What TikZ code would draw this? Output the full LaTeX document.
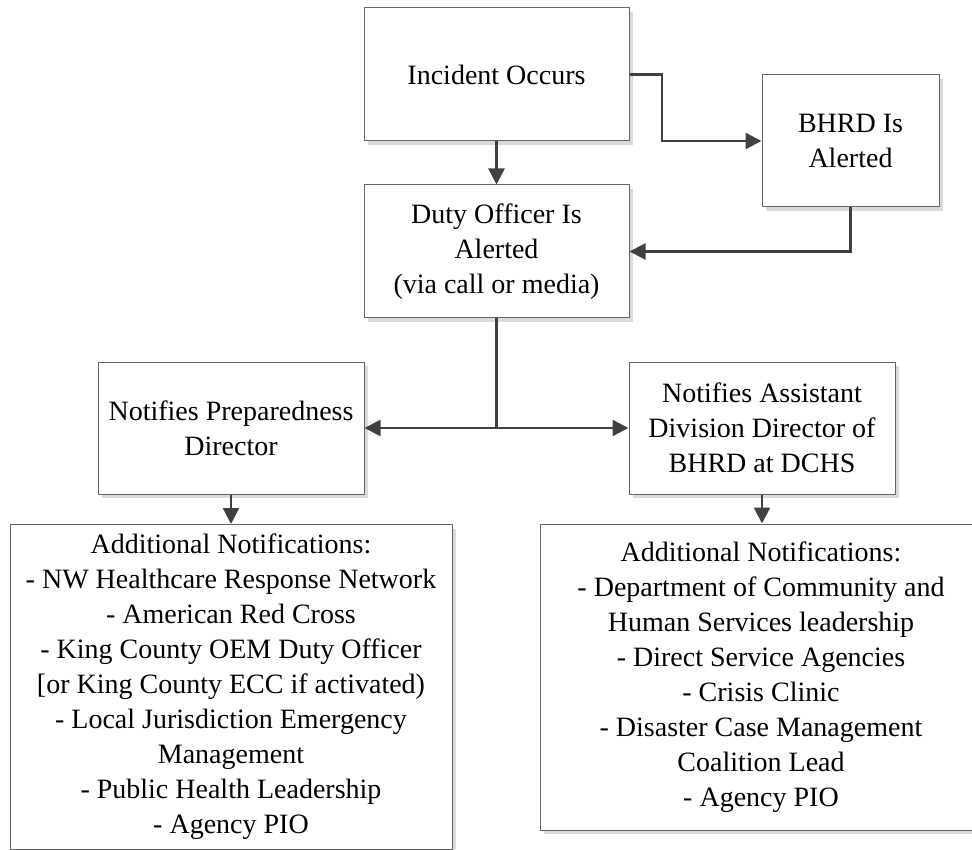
\documentclass[tikz,border=0pt]{standalone}
\usepackage{fontspec}
\setmainfont{Liberation Serif}
\usetikzlibrary{arrows.meta,shadows}
\definecolor{linegray}{HTML}{404040}
\definecolor{boxgray}{HTML}{666666}
\definecolor{shadowgray}{HTML}{DADADA}
\begin{document}
\begin{tikzpicture}[x=1pt,y=-1pt,
  box/.style={draw=boxgray, line width=1pt, fill=white, align=center, inner sep=0pt,
    font=\fontsize{28}{35}\selectfont,
    drop shadow={shadow xshift=4pt, shadow yshift=-4pt, fill=shadowgray, opacity=1}},
  conn/.style={draw=linegray, line width=2.3pt, -{Triangle[length=16pt,width=16pt]}},
  plain/.style={draw=linegray, line width=2.3pt}]
\clip (0,0) rectangle (972,850);
\useasboundingbox (0,0) rectangle (972,850);
\node[box, minimum width=265pt, minimum height=133pt] (inc) at (496.5,74.5) {Incident Occurs};
\node[box, minimum width=177pt, minimum height=132pt] (bhrd) at (850.5,141) {BHRD Is\\Alerted};
\node[box, minimum width=265pt, minimum height=133pt] (duty) at (496.5,251.5) {Duty Officer Is\\Alerted\\(via call or media)};
\node[box, minimum width=266pt, minimum height=132pt] (prep) at (231,428) {Notifies Preparedness\\Director};
\node[box, minimum width=266pt, minimum height=132pt] (asst) at (762,428) {Notifies Assistant\\Division Director of\\BHRD at DCHS};
\node[box, minimum width=442pt, minimum height=325pt] (addl) at (231,687) {Additional Notifications:\\- NW Healthcare Response Network\\- American Red Cross\\- King County OEM Duty Officer\\{[}or King County ECC if activated)\\- Local Jurisdiction Emergency\\Management\\- Public Health Leadership\\- Agency PIO};
\node[box, minimum width=442pt, minimum height=306pt] (addr) at (761,677) {Additional Notifications:\\- Department of Community and\\Human Services leadership\\- Direct Service Agencies\\- Crisis Clinic\\- Disaster Case Management\\Coalition Lead\\- Agency PIO};
\coordinate (split) at (496.5,428);
\coordinate (bend) at (662,74.5);
\draw[conn] (inc.south) -- (duty.north);
\draw[conn] (inc.east) -- (bend) |- (bhrd.west);
\draw[conn] (bhrd.south) |- (duty.east);
\draw[plain] (duty.south) -- (split);
\draw[conn] (split) -- (prep.east);
\draw[conn] (split) -- (asst.west);
\draw[conn] (prep.south) -- (prep.south |- addl.north);
\draw[conn] (asst.south) -- (asst.south |- addr.north);
\end{tikzpicture}
\end{document}
